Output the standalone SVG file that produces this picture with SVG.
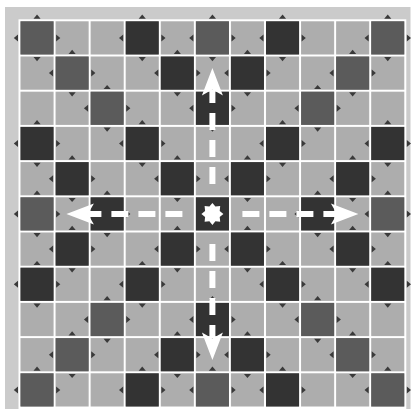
<svg xmlns="http://www.w3.org/2000/svg" xmlns:xlink="http://www.w3.org/1999/xlink" width="417" height="409" viewBox="0 0 417 409">
<style>
.med rect{fill:#5b5b5b}
.dark rect{fill:#333333}
.arrow-line{stroke:#ffffff;stroke-width:6;stroke-dasharray:17 10;fill:none}
.arrow-head{fill:#ffffff}
</style>
<defs>
<pattern id="grid" x="19.5" y="20.3" width="35.07" height="35.2" patternUnits="userSpaceOnUse">
<rect width="35.07" height="35.2" fill="#ffffff"/>
<rect x="1" y="1" width="33.07" height="33.2" fill="#adadad"/>
</pattern>
<g id="marks" fill="#3a3a3a">
<polygon points="14,-1.6 21.1,-1.6 17.54,-5.8"/>
<polygon points="14,36.8 21.1,36.8 17.54,41"/>
<polygon points="-1.5,14.1 -1.5,21.1 -5.7,17.6"/>
<polygon points="36.6,14.1 36.6,21.1 40.8,17.6"/>
</g>
</defs>
<rect x="5" y="7" width="405.5" height="402" fill="#cbcbcb"/>
<rect x="18.5" y="19.3" width="387.8" height="389.7" fill="#ffffff"/>
<rect x="19.5" y="20.3" width="385.77" height="387.2" fill="url(#grid)"/>
<g id="cells">
<g id="r0c0" class="med" transform="translate(19.5,20.3)"><rect x="1" y="1" width="33.07" height="33.2"/><use href="#marks"/></g>
<g id="r0c3" class="dark" transform="translate(124.7,20.3)"><rect x="1" y="1" width="33.07" height="33.2"/><use href="#marks"/></g>
<g id="r0c5" class="med" transform="translate(194.9,20.3)"><rect x="1" y="1" width="33.07" height="33.2"/><use href="#marks"/></g>
<g id="r0c7" class="dark" transform="translate(265,20.3)"><rect x="1" y="1" width="33.07" height="33.2"/><use href="#marks"/></g>
<g id="r0c10" class="med" transform="translate(370.2,20.3)"><rect x="1" y="1" width="33.07" height="33.2"/><use href="#marks"/></g>
<g id="r1c1" class="med" transform="translate(54.6,55.5)"><rect x="1" y="1" width="33.07" height="33.2"/><use href="#marks"/></g>
<g id="r1c4" class="dark" transform="translate(159.8,55.5)"><rect x="1" y="1" width="33.07" height="33.2"/><use href="#marks"/></g>
<g id="r1c6" class="dark" transform="translate(229.9,55.5)"><rect x="1" y="1" width="33.07" height="33.2"/><use href="#marks"/></g>
<g id="r1c9" class="med" transform="translate(335.1,55.5)"><rect x="1" y="1" width="33.07" height="33.2"/><use href="#marks"/></g>
<g id="r2c2" class="med" transform="translate(89.6,90.7)"><rect x="1" y="1" width="33.07" height="33.2"/><use href="#marks"/></g>
<g id="r2c5" class="dark" transform="translate(194.9,90.7)"><rect x="1" y="1" width="33.07" height="33.2"/><use href="#marks"/></g>
<g id="r2c8" class="med" transform="translate(300.1,90.7)"><rect x="1" y="1" width="33.07" height="33.2"/><use href="#marks"/></g>
<g id="r3c0" class="dark" transform="translate(19.5,125.9)"><rect x="1" y="1" width="33.07" height="33.2"/><use href="#marks"/></g>
<g id="r3c3" class="dark" transform="translate(124.7,125.9)"><rect x="1" y="1" width="33.07" height="33.2"/><use href="#marks"/></g>
<g id="r3c7" class="dark" transform="translate(265,125.9)"><rect x="1" y="1" width="33.07" height="33.2"/><use href="#marks"/></g>
<g id="r3c10" class="dark" transform="translate(370.2,125.9)"><rect x="1" y="1" width="33.07" height="33.2"/><use href="#marks"/></g>
<g id="r4c1" class="dark" transform="translate(54.6,161.1)"><rect x="1" y="1" width="33.07" height="33.2"/><use href="#marks"/></g>
<g id="r4c4" class="dark" transform="translate(159.8,161.1)"><rect x="1" y="1" width="33.07" height="33.2"/><use href="#marks"/></g>
<g id="r4c6" class="dark" transform="translate(229.9,161.1)"><rect x="1" y="1" width="33.07" height="33.2"/><use href="#marks"/></g>
<g id="r4c9" class="dark" transform="translate(335.1,161.1)"><rect x="1" y="1" width="33.07" height="33.2"/><use href="#marks"/></g>
<g id="r5c0" class="med" transform="translate(19.5,196.3)"><rect x="1" y="1" width="33.07" height="33.2"/><use href="#marks"/></g>
<g id="r5c2" class="dark" transform="translate(89.6,196.3)"><rect x="1" y="1" width="33.07" height="33.2"/><use href="#marks"/></g>
<g id="r5c5" class="dark" transform="translate(194.9,196.3)"><rect x="1" y="1" width="33.07" height="33.2"/></g>
<g id="r5c8" class="dark" transform="translate(300.1,196.3)"><rect x="1" y="1" width="33.07" height="33.2"/><use href="#marks"/></g>
<g id="r5c10" class="med" transform="translate(370.2,196.3)"><rect x="1" y="1" width="33.07" height="33.2"/><use href="#marks"/></g>
<g id="r6c1" class="dark" transform="translate(54.6,231.5)"><rect x="1" y="1" width="33.07" height="33.2"/><use href="#marks"/></g>
<g id="r6c4" class="dark" transform="translate(159.8,231.5)"><rect x="1" y="1" width="33.07" height="33.2"/><use href="#marks"/></g>
<g id="r6c6" class="dark" transform="translate(229.9,231.5)"><rect x="1" y="1" width="33.07" height="33.2"/><use href="#marks"/></g>
<g id="r6c9" class="dark" transform="translate(335.1,231.5)"><rect x="1" y="1" width="33.07" height="33.2"/><use href="#marks"/></g>
<g id="r7c0" class="dark" transform="translate(19.5,266.7)"><rect x="1" y="1" width="33.07" height="33.2"/><use href="#marks"/></g>
<g id="r7c3" class="dark" transform="translate(124.7,266.7)"><rect x="1" y="1" width="33.07" height="33.2"/><use href="#marks"/></g>
<g id="r7c7" class="dark" transform="translate(265,266.7)"><rect x="1" y="1" width="33.07" height="33.2"/><use href="#marks"/></g>
<g id="r7c10" class="dark" transform="translate(370.2,266.7)"><rect x="1" y="1" width="33.07" height="33.2"/><use href="#marks"/></g>
<g id="r8c2" class="med" transform="translate(89.6,301.9)"><rect x="1" y="1" width="33.07" height="33.2"/><use href="#marks"/></g>
<g id="r8c5" class="dark" transform="translate(194.9,301.9)"><rect x="1" y="1" width="33.07" height="33.2"/><use href="#marks"/></g>
<g id="r8c8" class="med" transform="translate(300.1,301.9)"><rect x="1" y="1" width="33.07" height="33.2"/><use href="#marks"/></g>
<g id="r9c1" class="med" transform="translate(54.6,337.1)"><rect x="1" y="1" width="33.07" height="33.2"/><use href="#marks"/></g>
<g id="r9c4" class="dark" transform="translate(159.8,337.1)"><rect x="1" y="1" width="33.07" height="33.2"/><use href="#marks"/></g>
<g id="r9c6" class="dark" transform="translate(229.9,337.1)"><rect x="1" y="1" width="33.07" height="33.2"/><use href="#marks"/></g>
<g id="r9c9" class="med" transform="translate(335.1,337.1)"><rect x="1" y="1" width="33.07" height="33.2"/><use href="#marks"/></g>
<g id="r10c0" class="med" transform="translate(19.5,372.3)"><rect x="1" y="1" width="33.07" height="33.2"/><use href="#marks"/></g>
<g id="r10c3" class="dark" transform="translate(124.7,372.3)"><rect x="1" y="1" width="33.07" height="33.2"/><use href="#marks"/></g>
<g id="r10c5" class="med" transform="translate(194.9,372.3)"><rect x="1" y="1" width="33.07" height="33.2"/><use href="#marks"/></g>
<g id="r10c7" class="dark" transform="translate(265,372.3)"><rect x="1" y="1" width="33.07" height="33.2"/><use href="#marks"/></g>
<g id="r10c10" class="med" transform="translate(370.2,372.3)"><rect x="1" y="1" width="33.07" height="33.2"/><use href="#marks"/></g>
</g>
<g id="connectors">
<line class="arrow-line" x1="212.4" y1="183.9" x2="212.4" y2="90"/>
<polygon class="arrow-head" points="212.4,67.9 222.9,95.4 212.4,89.4 201.9,95.4"/>
<line class="arrow-line" x1="212.4" y1="243.9" x2="212.4" y2="338"/>
<polygon class="arrow-head" points="212.4,359.9 222.9,332.4 212.4,338.4 201.9,332.4"/>
<line class="arrow-line" x1="182.4" y1="213.9" x2="88" y2="213.9"/>
<polygon class="arrow-head" points="66.4,213.9 93.9,203.4 87.9,213.9 93.9,224.4"/>
<line class="arrow-line" x1="242.4" y1="213.9" x2="337" y2="213.9"/>
<polygon class="arrow-head" points="358.4,213.9 330.9,203.4 336.9,213.9 330.9,224.4"/>
</g>
<g id="center-star" transform="translate(212.4,213.9)">
<polygon fill="#ffffff" points="0,-11 3,-7.3 7.8,-7.8 7.3,-3 11,0 7.3,3 7.8,7.8 3,7.3 0,11 -3,7.3 -7.8,7.8 -7.3,3 -11,0 -7.3,-3 -7.8,-7.8 -3,-7.3"/>
</g>
</svg>
